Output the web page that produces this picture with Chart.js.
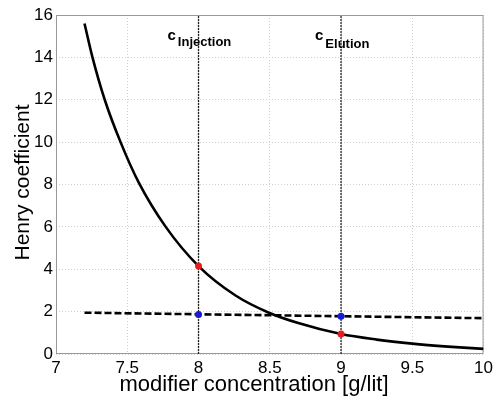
<!DOCTYPE html>
<html>
<head>
<meta charset="utf-8">
<script src="https://cdn.jsdelivr.net/npm/chart.js@4/dist/chart.umd.min.js"></script>
<style>
  body { margin: 0; background: #fff; }
  #wrap { width: 497px; height: 399px; }
</style>
</head>
<body>
<div id="wrap"><canvas id="henryChart" width="497" height="399"></canvas></div>
<script>
// values
const curveX = [7.2, 7.256, 7.342, 7.453, 7.58, 7.77, 8.0, 8.26, 8.49, 8.7, 9.0, 9.25, 9.5, 9.75, 10.0];
const curveY = [15.6, 14.0, 12.0, 10.0, 8.1, 6.0, 4.15, 2.76, 1.96, 1.46, 0.94, 0.68, 0.49, 0.35, 0.24];

const flowX = [7.2, 10.0];
const flowY = [1.95, 1.69];

const markerX = [8, 9];
const markerNames = ["Injection", "Elution"];
const curvePickY = [4.15, 0.94];
const flowPickY = [1.87, 1.78];

const xTicks = [7, 7.5, 8, 8.5, 9, 9.5, 10];
const yTicks = [0, 2, 4, 6, 8, 10, 12, 14, 16];

const FONT = "'Liberation Sans', Arial, Helvetica, sans-serif";

function toPoints(xs, ys) {
    return xs.map((x, i) => ({ x: x, y: ys[i] }));
}

// vertical marker lines at injection / elution concentration
const markerSets = markerX.map(x => ({
    data: [{ x: x, y: yTicks[0] }, { x: x, y: yTicks[yTicks.length - 1] }],
    showLine: true,
    borderColor: "#222",
    borderWidth: 1.3,
    borderDash: [2, 1],
    pointRadius: 0,
    order: 5
}));

// gray box round the plot, like matlab's "box on"
const framePlugin = {
    id: "frame",
    beforeDatasetsDraw(chart) {
        const a = chart.chartArea;
        const ctx = chart.ctx;
        ctx.save();
        ctx.strokeStyle = "#9a9a9a";
        ctx.lineWidth = 1;
        ctx.strokeRect(a.left + 0.5, a.top + 0.5, a.right - a.left - 1, a.bottom - a.top - 1);
        ctx.restore();
    }
};

// axis titles and the c_Injection / c_Elution labels
const textPlugin = {
    id: "texts",
    afterDraw(chart) {
        const ctx = chart.ctx;
        const a = chart.chartArea;
        const xs = chart.scales.x;
        ctx.save();
        ctx.fillStyle = "#000";

        ctx.font = "22px " + FONT;
        ctx.textAlign = "center";
        ctx.textBaseline = "alphabetic";
        ctx.fillText("modifier concentration [g/lit]", 254, 391);

        ctx.save();
        ctx.translate(29, (a.top + a.bottom) / 2 - 2);
        ctx.rotate(-Math.PI / 2);
        ctx.font = "21px " + FONT;
        ctx.fillText("Henry coefficient", 0, 0);
        ctx.restore();

        ctx.textAlign = "left";
        const shift = [31, 26];
        const subBase = [46, 48];
        markerX.forEach((x, i) => {
            const left = xs.getPixelForValue(x) - shift[i];
            ctx.font = "bold 15px " + FONT;
            ctx.fillText("c", left, 39.5);
            const w = ctx.measureText("c").width;
            ctx.font = "bold 13px " + FONT;
            ctx.fillText(markerNames[i], left + w + 2, subBase[i]);
        });
        ctx.restore();
    }
};

new Chart(document.getElementById("henryChart").getContext("2d"), {
    type: "scatter",
    data: {
        datasets: [
            {
                data: toPoints(markerX, curvePickY),
                pointRadius: 3.5,
                pointBackgroundColor: "#e41f1f",
                pointBorderWidth: 0,
                order: 0
            },
            {
                data: toPoints(markerX, flowPickY),
                pointRadius: 3.5,
                pointBackgroundColor: "#1a1ad6",
                pointBorderWidth: 0,
                order: 1
            },
            {
                data: toPoints(curveX, curveY),
                showLine: true,
                borderColor: "#000",
                borderWidth: 2.6,
                cubicInterpolationMode: "monotone",
                pointRadius: 0,
                order: 2
            },
            {
                data: toPoints(flowX, flowY),
                showLine: true,
                borderColor: "#000",
                borderWidth: 2.6,
                borderDash: [7, 3],
                pointRadius: 0,
                order: 3
            },
            ...markerSets
        ]
    },
    options: {
        responsive: false,
        animation: false,
        layout: { padding: { top: 15, right: 9, left: 0, bottom: 0 } },
        plugins: {
            legend: { display: false },
            tooltip: { enabled: false }
        },
        scales: {
            x: {
                type: "linear",
                min: xTicks[0],
                max: xTicks[xTicks.length - 1],
                afterBuildTicks: s => { s.ticks = xTicks.map(v => ({ value: v })); },
                afterFit: s => { s.height = 45; },
                grid: { color: "#cfcfcf", lineWidth: 1, drawTicks: false },
                border: { display: false, dash: [1, 2] },
                ticks: {
                    color: "#000",
                    padding: 4,
                    font: { family: FONT, size: 17 },
                    maxRotation: 0,
                    callback: v => String(v)
                }
            },
            y: {
                type: "linear",
                min: yTicks[0],
                max: yTicks[yTicks.length - 1],
                afterBuildTicks: s => { s.ticks = yTicks.map(v => ({ value: v })); },
                afterFit: s => { s.width = 56; },
                grid: { color: "#cfcfcf", lineWidth: 1, drawTicks: false },
                border: { display: false, dash: [1, 2] },
                ticks: { color: "#000", padding: 3, font: { family: FONT, size: 17 }, callback: v => String(v) }
            }
        }
    },
    plugins: [framePlugin, textPlugin]
});
</script>
</body>
</html>
